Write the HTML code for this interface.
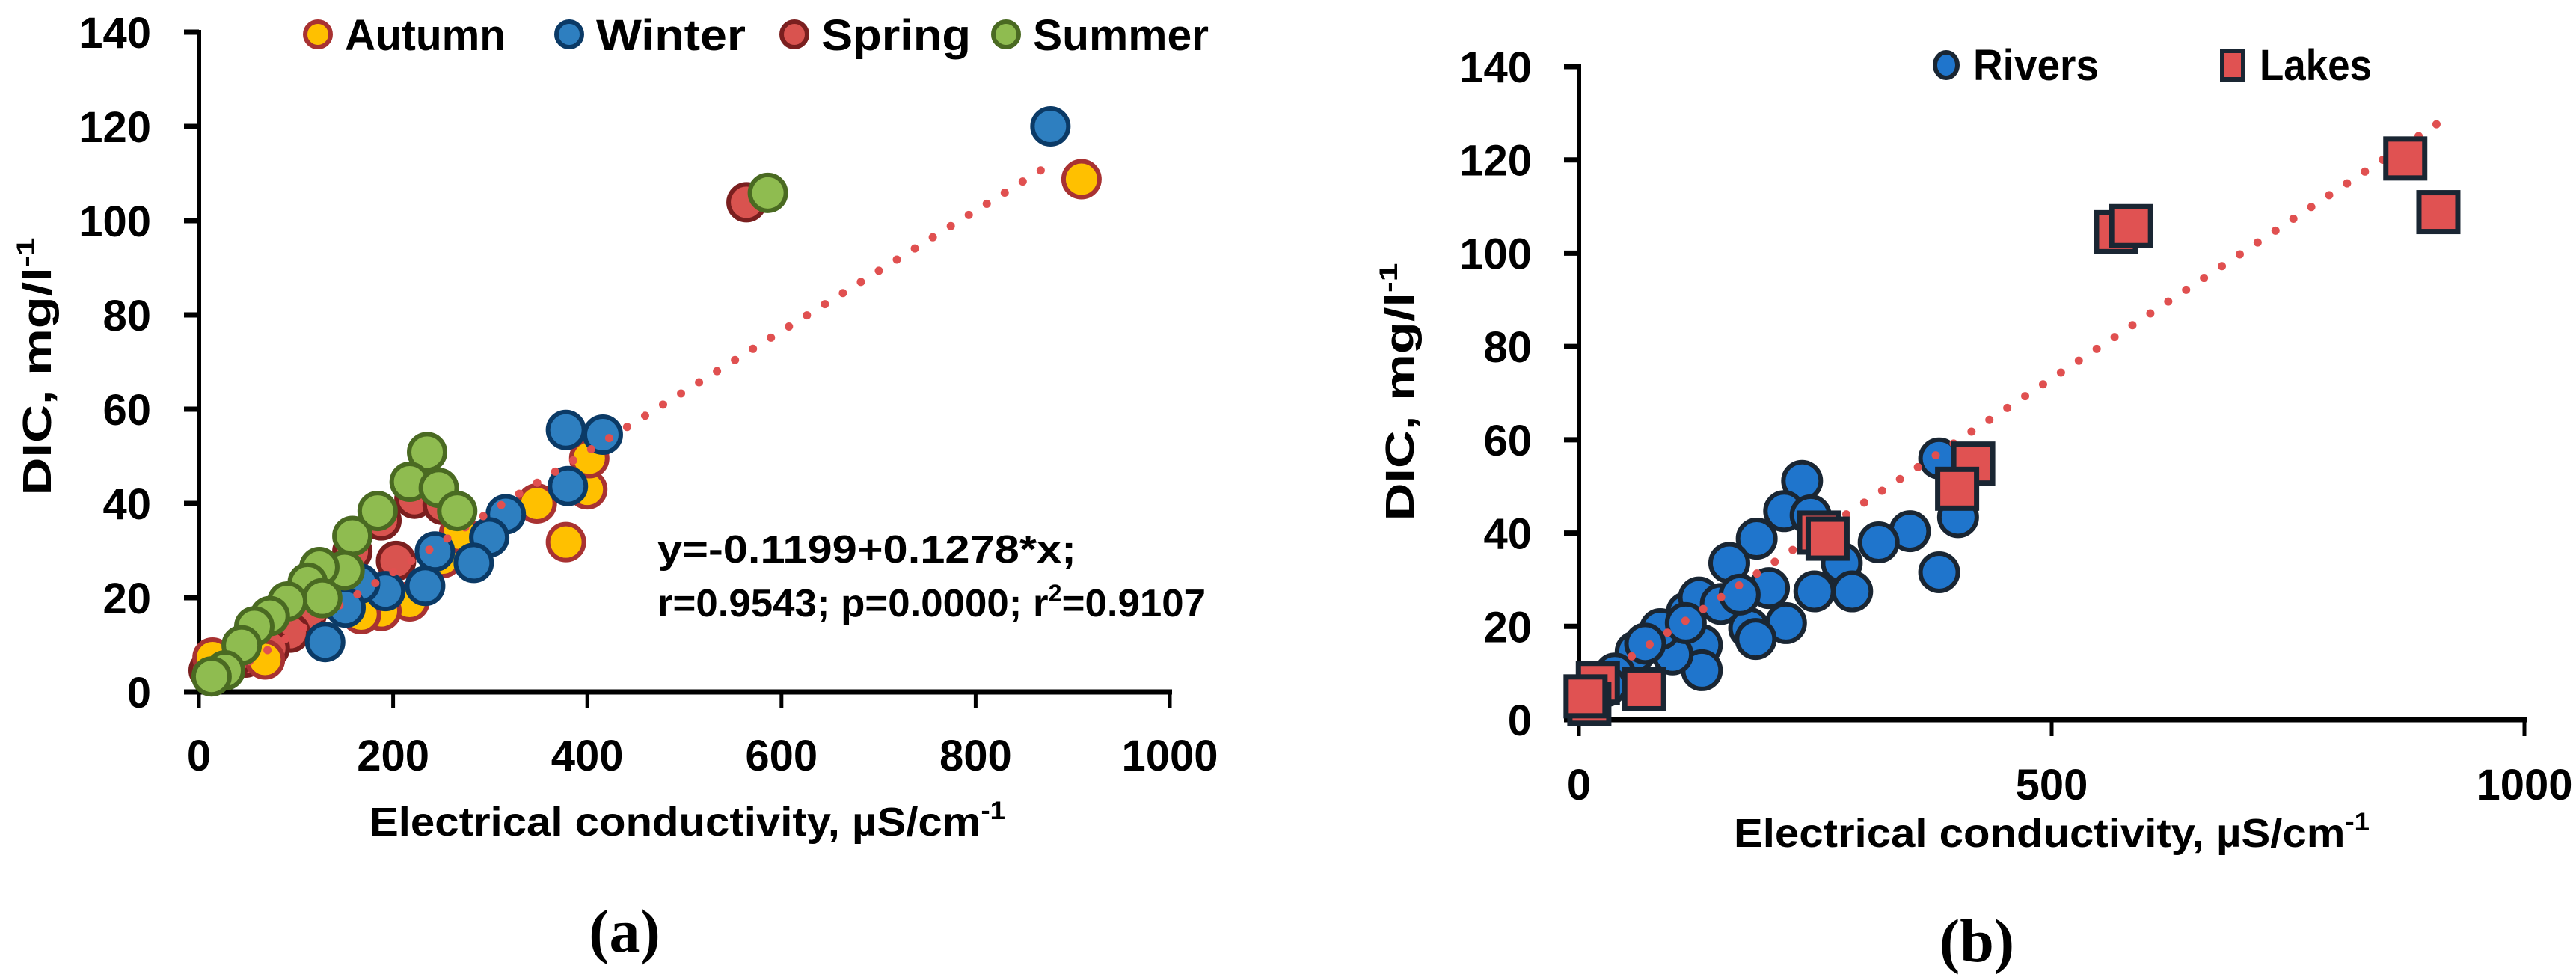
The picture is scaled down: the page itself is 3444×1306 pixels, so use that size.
<!DOCTYPE html>
<html><head><meta charset="utf-8"><style>
html,body{margin:0;padding:0;background:#fff;}
svg{display:block;font-family:"Liberation Sans",sans-serif;font-weight:bold;}
</style></head><body>
<svg id="fig" width="3444" height="1306" viewBox="0 0 3444 1306" xmlns="http://www.w3.org/2000/svg"></svg>
<script>
// ---- Panel (a) data ----
const yTicks = [0,20,40,60,80,100,120,140];
const xTicksA = [0,200,400,600,800,1000];
const xTicksB = [0,500,1000];
const autumnX = [909,400,402,378,348,281,251,217,188,167,68,14,268];
const autumnY = [108.8,43,49.6,31.8,40,28,28.4,19.2,17.2,16.5,6.9,7.3,33.7];
const winterX = [877,378,416,380,316,299,243,283,233,192,166,151,130];
const winterY = [120,55.6,54.6,43.7,37.7,32.8,29.8,27.4,22.5,21.4,23,17.9,10.6];
const springX = [564,222,251,188,203,158,111,94,73,48,10,137,40];
const springY = [103.9,41,39.7,36.4,27.8,29.8,16.5,12.6,9.3,7.3,4.6,19.8,8];
const summerX = [586,235,217,247,266,184,158,150,124,112,127,91,73,57,44,27,13];
const summerY = [105.9,50.9,44.6,43.3,38.4,38.4,33.1,25.8,26.5,23.2,19.9,19.2,16.1,13.9,9.9,4.6,3.3];
const trendA = [-0.1199, 0.1278];
const trendARange = [15, 867];
// ---- Panel (b) data ----
const riversX = [381,236,217,245,188,159,401,381,350,317,278,289,249,201,219,180,187,130,130,114,127,150,99,86,60,70,38,29,170,113];
const riversY = [56,51.2,44.7,43.8,38.8,33.6,43.4,31.6,40.4,38,33.6,27.5,27.5,28.2,20.7,19.6,17.3,16,10.6,23,26.2,24.8,14,19.4,14.6,16.3,9.9,7.2,26.8,20.7];
const lakesX = [874,909,568,584,417,400,254,263,20,69,11,7];
const lakesY = [120.3,108.8,104.5,105.8,54.9,49.5,40.1,38.8,7.9,6.5,3.4,5];
const trendB = [6.1, 0.134];
const trendBRange = [18, 907];

const NS = "http://www.w3.org/2000/svg";
const svg = document.getElementById('fig');
function mk(tag, attrs, parent, text){
  const e = document.createElementNS(NS, tag);
  for (const k in attrs) e.setAttribute(k, attrs[k]);
  if (text !== undefined) e.textContent = text;
  (parent||svg).appendChild(e);
  return e;
}

function panel(p){
  const g = mk('g', {});
  
  
  const sx = v => p.x0 + v*(p.x1-p.x0)/1000;
  const sy = v => p.y0 - v*(p.y0-p.y140)/140;
  const ya = mk('line', {x1:p.x0, y1:p.y140-3, x2:p.x0, y2:p.y0+3, stroke:'#000','stroke-width':p.aw}, g);
  
  
  const xa = mk('line', {x1:p.x0-20, y1:p.y0, x2:p.x1+3, y2:p.y0, stroke:'#000','stroke-width':7}, g);
  
  
  yTicks.forEach(t => {
    const y = sy(t);
    mk('line', {x1:p.x0-20, y1:y, x2:p.x0, y2:y, stroke:'#000','stroke-width':7}, g);
    const lb = mk('text', {x:p.ylabR, y:y+21, 'text-anchor':'end','font-size':58}, g, String(t));
    
    
  });
  p.xt.forEach(t => {
    const x = sx(t);
    mk('line', {x1:x, y1:p.y0, x2:x, y2:p.y0+22, stroke:'#000','stroke-width':5}, g);
    const lb = mk('text', {x:x, y:p.xlabY, 'text-anchor':'middle','font-size':58}, g, String(t));
    
    
  });
  const xt = mk('text', {x:p.xtX, y:p.xtY, 'text-anchor':'middle','font-size':54, textLength:p.xtW, lengthAdjust:'spacingAndGlyphs'}, g);
  
  
  xt.appendChild(document.createTextNode('Electrical conductivity, µS/cm'));
  mk('tspan', {dy:-22, 'font-size':34}, xt, '-1');
  const yt = mk('text', {x:0, y:0, 'text-anchor':'middle','font-size':54, transform:`translate(${p.ytX},${p.ytY}) rotate(-90)`, textLength:345, lengthAdjust:'spacingAndGlyphs'}, g);
  
  
  yt.appendChild(document.createTextNode('DIC, mg/l'));
  mk('tspan', {dy:-22, 'font-size':34}, yt, '-1');
  const cap = mk('text', {x:p.capX, y:p.capY, 'text-anchor':'middle','font-size':82,'font-family':'"Liberation Serif",serif'}, g, p.cap);
  
  
  return {g, sx, sy};
}

function trend(P, coef, range, g){
  const n = Math.round((P.sx(range[1])-P.sx(range[0]))/24);
  for (let i=0;i<=n;i++){
    const v = range[0] + (range[1]-range[0])*i/n;
    const d = mk('circle', {cx:P.sx(v), cy:P.sy(coef[0]+coef[1]*v), r:5.5, fill:'#e05050'}, g);
    
    
  }
}

function circles(P, xs, ys, fill, stroke, name, r, g){
  xs.forEach((x,i) => {
    const c = mk('circle', {cx:P.sx(x), cy:P.sy(ys[i]), r:r, fill:fill, stroke:stroke, 'stroke-width':6}, g);
    
    
  });
}

const A = panel({name:'panel-a', x0:266, x1:1564, y0:925, y140:43, aw:6, xt:xTicksA, ylabR:202, xlabY:1030,
  xtX:919, xtY:1117, xtW:850, ytX:68, ytY:490, cap:'(a)', capX:835, capY:1272});
const ga = mk('g', {});


circles(A, springX, springY, '#d9534f', '#7a1f1f', 'spring-point', 24, ga);
circles(A, autumnX, autumnY, '#ffc000', '#a83232', 'autumn-point', 24, ga);
circles(A, winterX, winterY, '#2e7fc0', '#0b3a66', 'winter-point', 24, ga);
trend(A, trendA, trendARange, ga);
circles(A, summerX, summerY, '#8fbc50', '#4a6a22', 'summer-point', 24, ga);
const eq = mk('text', {x:879, y:752, 'font-size':52, textLength:560, lengthAdjust:'spacingAndGlyphs'}, null, 'y=-0.1199+0.1278*x;');


const st = mk('text', {x:879, y:824, 'font-size':52, textLength:733, lengthAdjust:'spacingAndGlyphs'});


st.appendChild(document.createTextNode('r=0.9543; p=0.0000; r'));
mk('tspan', {dy:-20,'font-size':32}, st, '2');
mk('tspan', {dy:20}, st, '=0.9107');

const legA = [['Autumn',425,'#ffc000','#a83232',215],['Winter',761,'#2e7fc0','#0b3a66',200],['Spring',1062,'#d9534f','#7a1f1f',200],['Summer',1345,'#8fbc50','#4a6a22',235]];
legA.forEach(l => {
  const e = mk('g', {});
  
  
  mk('circle', {cx:l[1], cy:46, r:17, fill:l[2], stroke:l[3], 'stroke-width':6}, e);
  mk('text', {x:l[1]+36, y:67, 'font-size':58, textLength:l[4], lengthAdjust:'spacingAndGlyphs'}, e, l[0]);
});

const B = panel({name:'panel-b', x0:2111, x1:3375, y0:962, y140:89, aw:6, xt:xTicksB, ylabR:2048, xlabY:1069,
  xtX:2743, xtY:1132, xtW:850, ytX:1890, ytY:524, cap:'(b)', capX:2643, capY:1285});
const gb = mk('g', {});


circles(B, riversX, riversY, '#1f75cc', '#1a2633', 'river-point', 25, gb);
trend(B, trendB, trendBRange, gb);
lakesX.forEach((x,i) => {
  const s = mk('rect', {x:B.sx(x)-26, y:B.sy(lakesY[i])-26, width:52, height:52, fill:'#e05252', stroke:'#1a2633', 'stroke-width':7}, gb);
  
  
});
const lr = mk('g', {});


mk('ellipse', {cx:2602, cy:87, rx:15, ry:17, fill:'#1f75cc', stroke:'#1a2633', 'stroke-width':6}, lr);
mk('text', {x:2638, y:107, 'font-size':58, textLength:168, lengthAdjust:'spacingAndGlyphs'}, lr, 'Rivers');
const ll = mk('g', {});


mk('rect', {x:2971, y:68, width:28, height:38, fill:'#e05252', stroke:'#1a2633', 'stroke-width':6}, ll);
mk('text', {x:3021, y:107, 'font-size':58, textLength:150, lengthAdjust:'spacingAndGlyphs'}, ll, 'Lakes');
</script>
</body></html>
